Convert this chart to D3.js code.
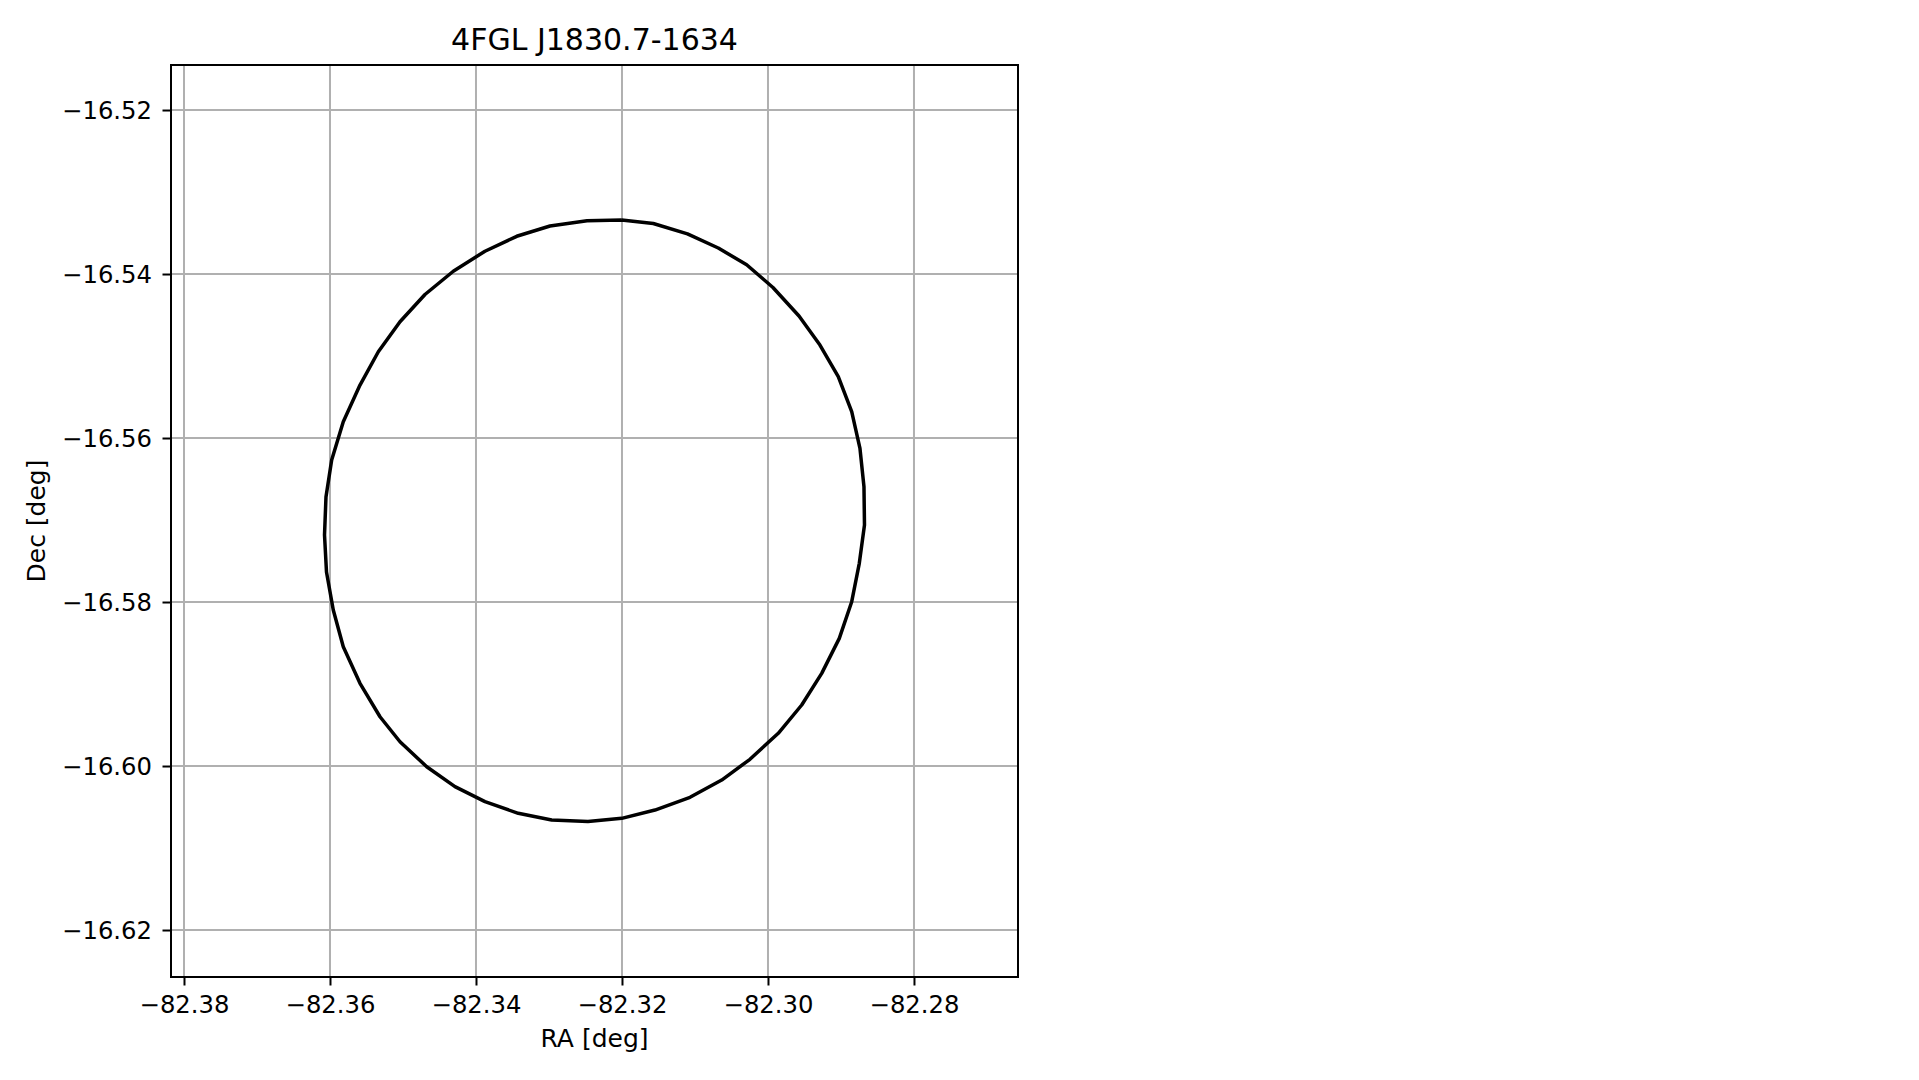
<!DOCTYPE html>
<html>
<head>
<meta charset="utf-8">
<script src="https://cdn.jsdelivr.net/npm/d3@7"></script>
<style>
  html, body { margin: 0; padding: 0; background: #fff; }
  svg { display: block; }
  text { font-family: "DejaVu Sans", sans-serif; fill: #000; }
</style>
</head>
<body>
<script>
// ---- Data ----
const title = "4FGL J1830.7-1634";
const xLabel = "RA [deg]";
const yLabel = "Dec [deg]";
const xTicks = [-82.38, -82.36, -82.34, -82.32, -82.30, -82.28];
const yTicks = [-16.52, -16.54, -16.56, -16.58, -16.60, -16.62];
const xDomain = [-82.38178, -82.26575];
const yDomain = [-16.62573, -16.51451];
// ellipse contour (RA, Dec)
const ellipseRA = [
  -82.32004, -82.31571, -82.31103, -82.30681, -82.30292, -82.29932, -82.29575, -82.29288,
  -82.29037, -82.28853, -82.28740, -82.28685, -82.28678, -82.28749, -82.28853, -82.29023,
  -82.29264, -82.29538, -82.29859, -82.30247, -82.30634, -82.31068, -82.31548, -82.32004,
  -82.32466, -82.32963, -82.33421, -82.33877, -82.34288, -82.34675, -82.35041, -82.35315,
  -82.35589, -82.35818, -82.35955, -82.36048, -82.36075, -82.36055, -82.35977, -82.35818,
  -82.35589, -82.35338, -82.35041, -82.34699, -82.34311, -82.33877, -82.33442, -82.32986,
  -82.32479, -82.32004
];
const ellipseDec = [
  -16.53341, -16.53384, -16.53510, -16.53683, -16.53887, -16.54165, -16.54512, -16.54866,
  -16.55252, -16.55679, -16.56126, -16.56594, -16.57061, -16.57528, -16.57996, -16.58443,
  -16.58870, -16.59256, -16.59601, -16.59918, -16.60171, -16.60382, -16.60537, -16.60638,
  -16.60677, -16.60659, -16.60577, -16.60435, -16.60252, -16.60009, -16.59704, -16.59399,
  -16.58991, -16.58545, -16.58098, -16.57634, -16.57183, -16.56720, -16.56268, -16.55801,
  -16.55354, -16.54948, -16.54582, -16.54250, -16.53966, -16.53722, -16.53540, -16.53415,
  -16.53350, -16.53341
];

// ---- Layout ----
const W = 1919, H = 1080;
const plot = { left: 171, top: 65, width: 847, height: 912 };
const tickFont = 24.3, titleFont = 30, labelFont = 25;
const gridColor = "#b0b0b0";

const fmt = v => d3.format(".2f")(v).replace("-", "\u2212");

const svg = d3.select("body").append("svg").attr("width", W).attr("height", H);

const x = d3.scaleLinear().domain(xDomain).range([0, plot.width]);
const y = d3.scaleLinear().domain(yDomain).range([plot.height, 0]);

const g = svg.append("g").attr("transform", `translate(${plot.left},${plot.top})`);

// grid
g.append("g").selectAll("line").data(xTicks).join("line")
  .attr("x1", d => x(d)).attr("x2", d => x(d))
  .attr("y1", 0).attr("y2", plot.height)
  .attr("stroke", gridColor).attr("stroke-width", 2);
g.append("g").selectAll("line").data(yTicks).join("line")
  .attr("y1", d => y(d)).attr("y2", d => y(d))
  .attr("x1", 0).attr("x2", plot.width)
  .attr("stroke", gridColor).attr("stroke-width", 2);

// ellipse
const pts = ellipseRA.map((r, i) => [r, ellipseDec[i]]);
g.append("path")
  .attr("d", d3.line().x(d => x(d[0])).y(d => y(d[1]))(pts))
  .attr("fill", "none").attr("stroke", "#000").attr("stroke-width", 3.5)
  .attr("stroke-linejoin", "round");

// axes
const xAxis = g.append("g").attr("transform", `translate(0,${plot.height})`)
  .call(d3.axisBottom(x).tickValues(xTicks).tickFormat(fmt).tickSize(8.5).tickSizeOuter(0));
const yAxis = g.append("g")
  .call(d3.axisLeft(y).tickValues(yTicks).tickFormat(fmt).tickSize(8.5).tickSizeOuter(0));

[xAxis, yAxis].forEach(a => {
  a.select(".domain").remove();
  a.selectAll(".tick line").attr("stroke", "#000").attr("stroke-width", 2);
  a.selectAll(".tick text").attr("font-size", tickFont)
    .attr("font-family", "DejaVu Sans, sans-serif").attr("fill", "#000");
});
xAxis.selectAll(".tick text").attr("y", 36).attr("dy", null);
yAxis.selectAll(".tick text").attr("x", -19).attr("dy", "0.36em");

// frame
g.append("rect").attr("x", 0).attr("y", 0)
  .attr("width", plot.width).attr("height", plot.height)
  .attr("fill", "none").attr("stroke", "#000").attr("stroke-width", 2);

// title & labels
svg.append("text").attr("x", plot.left + plot.width / 2).attr("y", 50)
  .attr("text-anchor", "middle").attr("font-size", titleFont).text(title);
svg.append("text").attr("x", plot.left + plot.width / 2).attr("y", 1047)
  .attr("text-anchor", "middle").attr("font-size", labelFont).text(xLabel);
svg.append("text")
  .attr("transform", `translate(45,${plot.top + plot.height / 2}) rotate(-90)`)
  .attr("text-anchor", "middle").attr("font-size", labelFont).text(yLabel);
</script>
</body>
</html>
